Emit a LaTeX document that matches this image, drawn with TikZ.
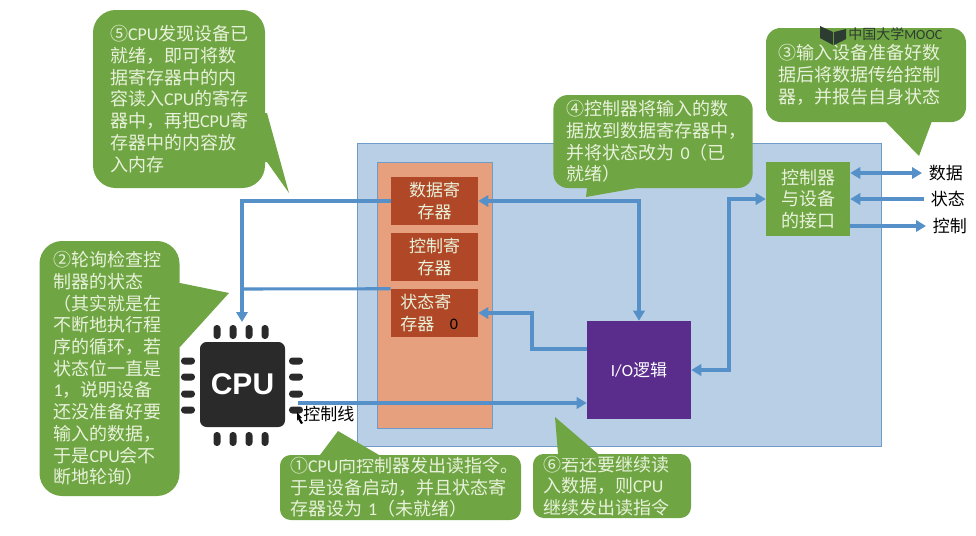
\documentclass[tikz,border=0pt]{standalone}
\usepackage{fontspec}
\setmainfont{Noto Sans CJK SC}
\newfontfamily\latinfont{Carlito}
\newfontfamily\chipfont{Liberation Sans}
\usetikzlibrary{arrows.meta}
\definecolor{PanelBlue}{RGB}{184,207,230}
\definecolor{PanelEdge}{RGB}{110,155,200}
\definecolor{RegPanel}{RGB}{230,160,125}
\definecolor{RegFill}{RGB}{176,72,40}
\definecolor{LogicPurple}{RGB}{90,44,140}
\definecolor{BubbleGreen}{RGB}{112,165,68}
\definecolor{BubbleText}{RGB}{232,242,218}
\definecolor{LinkBlue}{RGB}{85,145,200}
\definecolor{ChipBlack}{RGB}{42,42,42}
\definecolor{MarkDark}{RGB}{45,60,48}
\newcommand{\lat}[1]{{\latinfont #1}}
\tikzset{
    regbox/.style={rectangle, draw=none, fill=RegFill, text=BubbleText, minimum width=65.25pt, minimum height=36pt, inner sep=0pt, align=center, font=\fontsize{12.75}{16}\selectfont},
    bubble/.style={rectangle, fill=BubbleGreen, text=BubbleText, inner ysep=0pt, align=left, font=\fontsize{13.5}{16.3}\selectfont},
    bubbletail/.style={fill=BubbleGreen},
    sidelabel/.style={inner ysep=0pt, inner xsep=5pt, font=\fontsize{12.75}{15}\selectfont}
}

\begin{document}
\begin{tikzpicture}[
        x=0.75pt, y=-0.75pt,
        % connectors
        link/.style={draw=LinkBlue, line width=2.3pt},
        tip/.style={-{Triangle[length=7.5pt,width=8.5pt]}},
        bothtip/.style={{Triangle[length=7.5pt,width=8.5pt]}-{Triangle[length=7.5pt,width=8.5pt]}},
        revtip/.style={{Triangle[length=7.5pt,width=8.5pt]}-},
        pin/.style={fill=ChipBlack, rounded corners=2.5pt}
    ]
        \useasboundingbox (0,0) rectangle (976,536);

        % --- PANELS ---
        \node[rectangle, draw=PanelEdge, fill=PanelBlue, minimum width=393pt, minimum height=227.25pt, inner sep=0pt] (panel) at (619,294.5) {};
        \node[rectangle, draw=PanelEdge, fill=RegPanel, minimum width=86.25pt, minimum height=199.5pt, inner sep=0pt] (regpanel) at (434.5,295) {};

        % --- REGISTERS ---
        \node[regbox] (dataReg) at (434.5,201) {数据寄\\存器};
        \node[regbox] (ctrlReg) at (434.5,257) {控制寄\\存器};
        \node[regbox] (statusReg) at (434.5,313) {};
        \node[anchor=west, inner sep=0pt, align=left, text=BubbleText, font=\fontsize{12.75}{16}\selectfont] (statusText) at (400,313) {状态寄\\存器};
        \node[inner sep=0pt, font=\fontsize{12}{14}\selectfont\latinfont] (statusBit) at (454,324) {0};

        % --- LOGIC AND INTERFACE ---
        \node[rectangle, fill=LogicPurple, text=white, minimum width=78pt, minimum height=73.5pt, inner sep=0pt, font=\fontsize{12.75}{15}\selectfont] (ioLogic) at (639,370) {\lat{I/O}逻辑};
        \node[rectangle, fill=BubbleGreen, text=BubbleText, minimum width=63pt, minimum height=55.5pt, inner sep=0pt, align=center, font=\fontsize{13.5}{16.3}\selectfont] (ifaceBox) at (808,199) {控制器\\与设备\\的接口};

        % --- CPU ---
        \node[rectangle, fill=ChipBlack, rounded corners=5pt, text=white, minimum width=63.75pt, minimum height=63.75pt, inner sep=0pt, font=\fontsize{22.5}{26}\selectfont\chipfont\bfseries] (cpu) at (242.5,384.5) {CPU};
        \foreach \px in {217,233,249,265} {
            \fill[pin] (\px-3.5,325) rectangle (\px+3.5,339);
            \fill[pin] (\px-3.5,432) rectangle (\px+3.5,446);
        }
        \foreach \py in {361,377,394,410} {
            \fill[pin] (181,\py-3.5) rectangle (195,\py+3.5);
            \fill[pin] (289,\py-3.5) rectangle (303,\py+3.5);
        }

        % --- SIDE LABELS ---
        \node[sidelabel, anchor=west] (dataLbl) at (922,173) {数据};
        \node[sidelabel, anchor=west] (stateLbl) at (924,199) {状态};
        \node[sidelabel, anchor=west] (ctrlLbl) at (926,226) {控制};
        \node[inner sep=0pt, anchor=west, font=\fontsize{12.75}{15}\selectfont] (busLbl) at (303,414) {控制线};

        % --- CONNECTORS ---
        \coordinate (cpuIn) at (242,322);
        \coordinate (pollJoin) at (242,289);
        \coordinate (ioOut) at (587,349);
        \coordinate (ifTurn) at (729,370);
        \coordinate (busOut) at (298,403);
        \draw[link, tip] (dataReg.west) -| (cpuIn);
        \draw[link] (statusReg.north west) -- (pollJoin);
        \draw[link, bothtip] (dataReg.east) -| (ioLogic.north);
        \draw[link, tip] (ioOut) -- (532,349) -- (532,313) -- (statusReg.east);
        \draw[link, bothtip] (ioLogic.east) -- (ifTurn) |- (ifaceBox.west);
        \draw[link, tip] (busOut) -- (ioLogic.west |- busOut);
        \draw[link, bothtip] (ifaceBox.east |- dataLbl) -- (dataLbl.west);
        \draw[link, revtip] (ifaceBox.east |- stateLbl) -- (stateLbl.west);
        \draw[link, tip] (ifaceBox.east |- ctrlLbl) -- (ctrlLbl.west);

        % --- BUBBLES ---
        \node[bubble, rounded corners=17pt, text width=103.5pt, inner xsep=12.75pt, minimum height=133.5pt] (stepFive) at (179,99) {⑤\lat{CPU}发现设备已\\就绪，即可将数\\据寄存器中的内\\容读入\lat{CPU}的寄存\\器中，再把\lat{CPU}寄\\存器中的内容放\\入内存};
        \fill[bubbletail] (262,113) -- (267,113) -- (289,193) -- (267,162) -- (262,162) -- cycle;

        \node[bubble, rounded corners=17pt, text width=84pt, inner xsep=10.5pt, minimum height=191.25pt] (stepTwo) at (109.5,368.5) {②轮询检查控\\制器的状态\\（其实就是在\\不断地执行程\\序的循环，若\\状态位一直是\\\lat{1}，说明设备\\还没准备好要\\输入的数据，\\于是\lat{CPU}会不\\断地轮询）};
        \fill[bubbletail] (175,283) -- (180,283) -- (229,293) -- (180,347) -- (175,347) -- cycle;

        \node[bubble, rounded corners=8pt, text width=165.75pt, inner xsep=7.5pt, minimum height=48.75pt] (stepOne) at (400.5,487.5) {①\lat{CPU}向控制器发出读指令。\\于是设备启动，并且状态寄\\存器设为 \lat{1}（未就绪）};
        \fill[bubbletail] (320,459) -- (320,455) -- (338,431) -- (379,455) -- (379,459) -- cycle;

        \node[bubble, rounded corners=8pt, text width=103.5pt, inner xsep=7.5pt, minimum height=48pt] (stepSix) at (612,486) {⑥若还要继续读\\入数据，则\lat{CPU}\\继续发出读指令};
        \fill[bubbletail] (558,458) -- (558,454) -- (555,417) -- (598,454) -- (598,458) -- cycle;

        \node[bubble, rounded corners=11pt, text width=129.5pt, inner xsep=10pt, minimum height=69.75pt] (stepFour) at (653,141.5) {④控制器将输入的数\\据放到数据寄存器中，\\并将状态改为 \lat{0}（已\\就绪）};
        \fill[bubbletail] (587,184) -- (587,188) -- (586,197) -- (637,188) -- (637,184) -- cycle;

        \node[bubble, rounded corners=11pt, text width=132pt, inner xsep=9pt, minimum height=70.5pt] (stepThree) at (866,75) {③输入设备准备好数\\据后将数据传给控制\\器，并报告自身状态};
        \fill[bubbletail] (885,116) -- (885,121) -- (919,156) -- (932,121) -- (932,116) -- cycle;

        % --- WATERMARK ---
        \fill[MarkDark] (820,26) -- (833,32) -- (833,45) -- (820,38) -- cycle;
        \fill[MarkDark] (834,32) -- (846,29) -- (846,39) -- (834,45) -- cycle;
        \node[inner sep=0pt, anchor=west, text=MarkDark, font=\fontsize{10.5}{12}\selectfont] (markText) at (848,34) {中国大学\lat{MOOC}};

        % --- POINTER ---
        \fill[black] (297,412) -- (302,418) -- (300,418) -- (303,423) -- (301,424) -- (298,419) -- (297,421) -- cycle;
    \end{tikzpicture}
\end{document}
